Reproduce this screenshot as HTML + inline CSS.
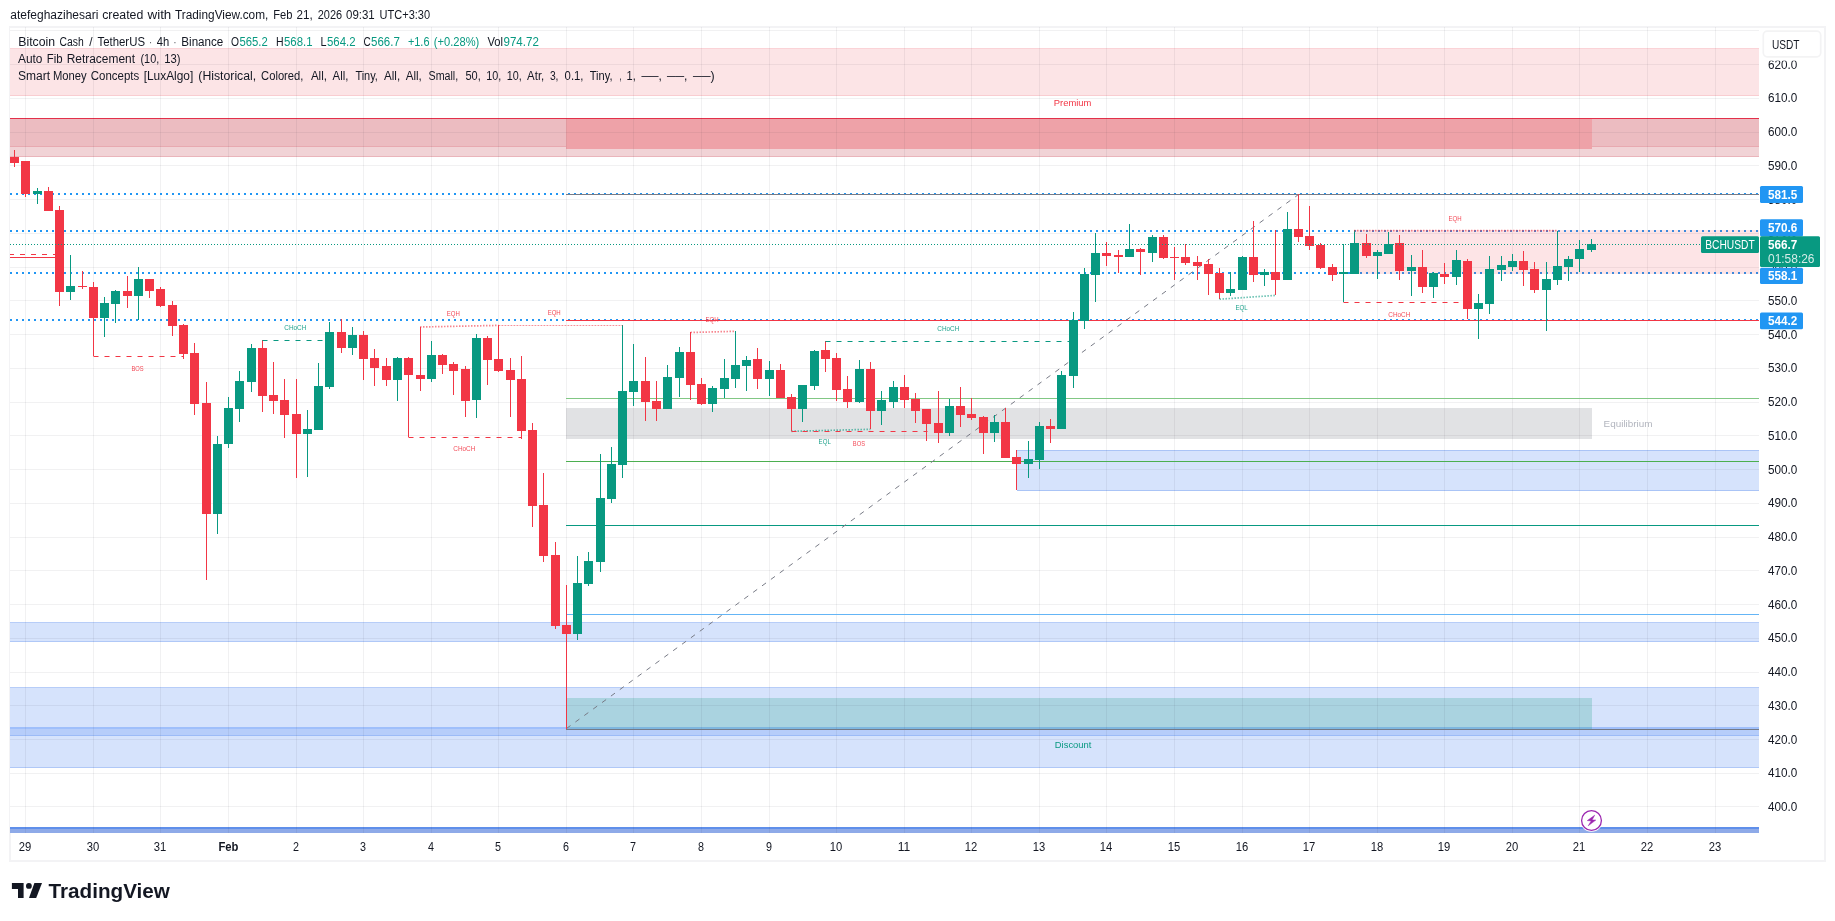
<!DOCTYPE html>
<html lang="en"><head><meta charset="utf-8"><title>BCHUSDT chart</title>
<style>html,body{margin:0;padding:0;background:#fff;width:1835px;height:921px;overflow:hidden}</style></head>
<body>
<svg width="1835" height="921" viewBox="0 0 1835 921" style="position:absolute;left:0;top:0;will-change:transform" font-family="'Liberation Sans', Arial, sans-serif">
<rect x="0" y="0" width="1835" height="921" fill="#fff"/>
<rect x="10" y="27" width="1815" height="834" fill="#fff" stroke="#f3f3f5" stroke-width="2"/>
<rect x="10" y="28" width="1749" height="805" fill="#fff"/>
<g shape-rendering="crispEdges">
<rect x="10" y="48" width="1749" height="47.5" fill="#fce4e6"/>
<rect x="10" y="95" width="1749" height="1" fill="#f9cdd1"/>
<rect x="10" y="48" width="1749" height="1" fill="#fbd3d7"/>
<rect x="10" y="119" width="1749" height="37.5" fill="#f1d3d6"/>
<rect x="10" y="119" width="1749" height="27.5" fill="#ecbcc1"/>
<rect x="10" y="146" width="1749" height="1" fill="#e8a9b0"/>
<rect x="10" y="156" width="1749" height="1" fill="#eab5bb"/>
<rect x="566" y="119" width="1026" height="30" fill="#eea2a8"/>
<rect x="10" y="118" width="1749" height="1.4" fill="#e3304a"/>
<rect x="10" y="622" width="1749" height="20" fill="#d6e3fc"/>
<rect x="10" y="622" width="1749" height="1" fill="#b7cdf8"/>
<rect x="10" y="641" width="1749" height="1" fill="#b0c8f7"/>
<rect x="10" y="687" width="1749" height="80.5" fill="#d6e3fc"/>
<rect x="10" y="687" width="1749" height="1" fill="#b7cdf8"/>
<rect x="10" y="767" width="1749" height="1" fill="#b0c8f7"/>
<rect x="10" y="727" width="1749" height="9" fill="#b6cdfa"/>
<rect x="10" y="727" width="1749" height="2" fill="#9fbffb"/>
<rect x="10" y="735" width="1749" height="1" fill="#9cbbf7"/>
<rect x="1016.5" y="450" width="742.5" height="40.5" fill="#d6e3fc"/>
<rect x="1016.5" y="450" width="742.5" height="1" fill="#aac4f6"/>
<rect x="1016.5" y="490" width="742.5" height="1" fill="#aac4f6"/>
<rect x="566" y="408" width="1026" height="30.7" fill="#e1e2e4"/>
<rect x="566" y="697.75" width="1026" height="31.25" fill="#aad3e0"/>
<rect x="566" y="727" width="1026" height="2" fill="#7eb6df"/>
<rect x="10" y="827.3" width="1749" height="5.7" fill="#8eaae8"/>
<rect x="10" y="827.3" width="1749" height="1.6" fill="#5f8fea"/>
</g>
<g stroke="rgba(42,46,57,0.065)" stroke-width="1" shape-rendering="crispEdges">
<line x1="25.5" y1="27" x2="25.5" y2="833"/>
<line x1="93.5" y1="27" x2="93.5" y2="833"/>
<line x1="160.5" y1="27" x2="160.5" y2="833"/>
<line x1="228.5" y1="27" x2="228.5" y2="833"/>
<line x1="296.5" y1="27" x2="296.5" y2="833"/>
<line x1="363.5" y1="27" x2="363.5" y2="833"/>
<line x1="431.5" y1="27" x2="431.5" y2="833"/>
<line x1="498.5" y1="27" x2="498.5" y2="833"/>
<line x1="566.5" y1="27" x2="566.5" y2="833"/>
<line x1="633.5" y1="27" x2="633.5" y2="833"/>
<line x1="701.5" y1="27" x2="701.5" y2="833"/>
<line x1="769.5" y1="27" x2="769.5" y2="833"/>
<line x1="836.5" y1="27" x2="836.5" y2="833"/>
<line x1="904.5" y1="27" x2="904.5" y2="833"/>
<line x1="971.5" y1="27" x2="971.5" y2="833"/>
<line x1="1039.5" y1="27" x2="1039.5" y2="833"/>
<line x1="1106.5" y1="27" x2="1106.5" y2="833"/>
<line x1="1174.5" y1="27" x2="1174.5" y2="833"/>
<line x1="1242.5" y1="27" x2="1242.5" y2="833"/>
<line x1="1309.5" y1="27" x2="1309.5" y2="833"/>
<line x1="1377.5" y1="27" x2="1377.5" y2="833"/>
<line x1="1444.5" y1="27" x2="1444.5" y2="833"/>
<line x1="1512.5" y1="27" x2="1512.5" y2="833"/>
<line x1="1579.5" y1="27" x2="1579.5" y2="833"/>
<line x1="1647.5" y1="27" x2="1647.5" y2="833"/>
<line x1="1715.5" y1="27" x2="1715.5" y2="833"/>
<line x1="10" y1="806.5" x2="1759" y2="806.5"/>
<line x1="10" y1="773.5" x2="1759" y2="773.5"/>
<line x1="10" y1="739.5" x2="1759" y2="739.5"/>
<line x1="10" y1="705.5" x2="1759" y2="705.5"/>
<line x1="10" y1="672.5" x2="1759" y2="672.5"/>
<line x1="10" y1="638.5" x2="1759" y2="638.5"/>
<line x1="10" y1="604.5" x2="1759" y2="604.5"/>
<line x1="10" y1="570.5" x2="1759" y2="570.5"/>
<line x1="10" y1="537.5" x2="1759" y2="537.5"/>
<line x1="10" y1="503.5" x2="1759" y2="503.5"/>
<line x1="10" y1="469.5" x2="1759" y2="469.5"/>
<line x1="10" y1="435.5" x2="1759" y2="435.5"/>
<line x1="10" y1="402.5" x2="1759" y2="402.5"/>
<line x1="10" y1="368.5" x2="1759" y2="368.5"/>
<line x1="10" y1="334.5" x2="1759" y2="334.5"/>
<line x1="10" y1="300.5" x2="1759" y2="300.5"/>
<line x1="10" y1="267.5" x2="1759" y2="267.5"/>
<line x1="10" y1="233.5" x2="1759" y2="233.5"/>
<line x1="10" y1="199.5" x2="1759" y2="199.5"/>
<line x1="10" y1="165.5" x2="1759" y2="165.5"/>
<line x1="10" y1="132.5" x2="1759" y2="132.5"/>
<line x1="10" y1="98.5" x2="1759" y2="98.5"/>
<line x1="10" y1="64.5" x2="1759" y2="64.5"/>
<line x1="10" y1="30.5" x2="1759" y2="30.5"/>
</g>
<g stroke="#2196f3" stroke-width="2" stroke-dasharray="2 4" shape-rendering="crispEdges">
<line x1="10" y1="194" x2="1759" y2="194"/>
<line x1="10" y1="231" x2="1759" y2="231"/>
<line x1="10" y1="273" x2="1759" y2="273"/>
<line x1="10" y1="320" x2="1759" y2="320"/>
</g>
<g shape-rendering="crispEdges">
<rect x="566" y="194" width="1193" height="1" fill="#787b86"/>
<rect x="566" y="320" width="1193" height="1.3" fill="#f23645"/>
<rect x="566" y="398" width="1193" height="1" fill="#81c784"/>
<rect x="566" y="461" width="1193" height="1" fill="#4caf50"/>
<rect x="566" y="525" width="1193" height="1" fill="#089981"/>
<rect x="566" y="614" width="1193" height="1" fill="#64b5f6"/>
<rect x="566" y="729" width="1193" height="1" fill="#747a88"/>
</g>
<line x1="566.5" y1="728.5" x2="1298.5" y2="194.5" stroke="#787b86" stroke-width="1" stroke-dasharray="5 6"/>
<rect x="1354" y="230" width="405" height="44" fill="rgba(242,54,69,0.134)" shape-rendering="crispEdges"/>
<g shape-rendering="crispEdges">
<rect x="14" y="150" width="1" height="17" fill="#f23645"/>
<rect x="10" y="157" width="9" height="6" fill="#f23645"/>
<rect x="25" y="161" width="1" height="36" fill="#f23645"/>
<rect x="21" y="161" width="9" height="33" fill="#f23645"/>
<rect x="37" y="188" width="1" height="16" fill="#089981"/>
<rect x="33" y="191" width="9" height="3" fill="#089981"/>
<rect x="48" y="187" width="1" height="24" fill="#f23645"/>
<rect x="44" y="191" width="9" height="20" fill="#f23645"/>
<rect x="59" y="206" width="1" height="100" fill="#f23645"/>
<rect x="55" y="210" width="9" height="82" fill="#f23645"/>
<rect x="70" y="255" width="1" height="45" fill="#089981"/>
<rect x="66" y="286" width="9" height="6" fill="#089981"/>
<rect x="82" y="271" width="1" height="18" fill="#f23645"/>
<rect x="78" y="286" width="9" height="1" fill="#f23645"/>
<rect x="93" y="282" width="1" height="74" fill="#f23645"/>
<rect x="89" y="287" width="9" height="31" fill="#f23645"/>
<rect x="104" y="297" width="1" height="40" fill="#089981"/>
<rect x="100" y="303" width="9" height="15" fill="#089981"/>
<rect x="115" y="290" width="1" height="33" fill="#089981"/>
<rect x="111" y="291" width="9" height="13" fill="#089981"/>
<rect x="127" y="276" width="1" height="32" fill="#f23645"/>
<rect x="123" y="291" width="9" height="5" fill="#f23645"/>
<rect x="138" y="267" width="1" height="53" fill="#089981"/>
<rect x="134" y="279" width="9" height="17" fill="#089981"/>
<rect x="149" y="279" width="1" height="19" fill="#f23645"/>
<rect x="145" y="279" width="9" height="12" fill="#f23645"/>
<rect x="160" y="287" width="1" height="20" fill="#f23645"/>
<rect x="156" y="289" width="9" height="17" fill="#f23645"/>
<rect x="172" y="301" width="1" height="35" fill="#f23645"/>
<rect x="168" y="305" width="9" height="21" fill="#f23645"/>
<rect x="183" y="324" width="1" height="35" fill="#f23645"/>
<rect x="179" y="325" width="9" height="29" fill="#f23645"/>
<rect x="194" y="343" width="1" height="72" fill="#f23645"/>
<rect x="190" y="353" width="9" height="51" fill="#f23645"/>
<rect x="206" y="382" width="1" height="198" fill="#f23645"/>
<rect x="202" y="403" width="9" height="111" fill="#f23645"/>
<rect x="217" y="436" width="1" height="98" fill="#089981"/>
<rect x="213" y="444" width="9" height="70" fill="#089981"/>
<rect x="228" y="397" width="1" height="51" fill="#089981"/>
<rect x="224" y="408" width="9" height="36" fill="#089981"/>
<rect x="239" y="371" width="1" height="51" fill="#089981"/>
<rect x="235" y="381" width="9" height="28" fill="#089981"/>
<rect x="251" y="344" width="1" height="48" fill="#089981"/>
<rect x="247" y="348" width="9" height="34" fill="#089981"/>
<rect x="262" y="340" width="1" height="72" fill="#f23645"/>
<rect x="258" y="348" width="9" height="48" fill="#f23645"/>
<rect x="273" y="362" width="1" height="52" fill="#f23645"/>
<rect x="269" y="395" width="9" height="6" fill="#f23645"/>
<rect x="284" y="379" width="1" height="59" fill="#f23645"/>
<rect x="280" y="400" width="9" height="15" fill="#f23645"/>
<rect x="296" y="379" width="1" height="99" fill="#f23645"/>
<rect x="292" y="414" width="9" height="20" fill="#f23645"/>
<rect x="307" y="410" width="1" height="67" fill="#089981"/>
<rect x="303" y="429" width="9" height="5" fill="#089981"/>
<rect x="318" y="363" width="1" height="67" fill="#089981"/>
<rect x="314" y="386" width="9" height="44" fill="#089981"/>
<rect x="329" y="322" width="1" height="67" fill="#089981"/>
<rect x="325" y="332" width="9" height="55" fill="#089981"/>
<rect x="341" y="319" width="1" height="34" fill="#f23645"/>
<rect x="337" y="332" width="9" height="16" fill="#f23645"/>
<rect x="352" y="327" width="1" height="28" fill="#089981"/>
<rect x="348" y="335" width="9" height="13" fill="#089981"/>
<rect x="363" y="331" width="1" height="49" fill="#f23645"/>
<rect x="359" y="335" width="9" height="24" fill="#f23645"/>
<rect x="374" y="349" width="1" height="37" fill="#f23645"/>
<rect x="370" y="358" width="9" height="10" fill="#f23645"/>
<rect x="386" y="358" width="1" height="28" fill="#f23645"/>
<rect x="382" y="366" width="9" height="14" fill="#f23645"/>
<rect x="397" y="357" width="1" height="44" fill="#089981"/>
<rect x="393" y="358" width="9" height="22" fill="#089981"/>
<rect x="408" y="357" width="1" height="80" fill="#f23645"/>
<rect x="404" y="358" width="9" height="17" fill="#f23645"/>
<rect x="420" y="327" width="1" height="64" fill="#f23645"/>
<rect x="416" y="375" width="9" height="4" fill="#f23645"/>
<rect x="431" y="341" width="1" height="41" fill="#089981"/>
<rect x="427" y="355" width="9" height="24" fill="#089981"/>
<rect x="442" y="354" width="1" height="20" fill="#f23645"/>
<rect x="438" y="355" width="9" height="10" fill="#f23645"/>
<rect x="453" y="362" width="1" height="33" fill="#f23645"/>
<rect x="449" y="364" width="9" height="7" fill="#f23645"/>
<rect x="465" y="366" width="1" height="51" fill="#f23645"/>
<rect x="461" y="369" width="9" height="32" fill="#f23645"/>
<rect x="476" y="334" width="1" height="84" fill="#089981"/>
<rect x="472" y="338" width="9" height="62" fill="#089981"/>
<rect x="487" y="336" width="1" height="49" fill="#f23645"/>
<rect x="483" y="338" width="9" height="22" fill="#f23645"/>
<rect x="498" y="325" width="1" height="47" fill="#f23645"/>
<rect x="494" y="359" width="9" height="12" fill="#f23645"/>
<rect x="510" y="358" width="1" height="59" fill="#f23645"/>
<rect x="506" y="370" width="9" height="10" fill="#f23645"/>
<rect x="521" y="356" width="1" height="83" fill="#f23645"/>
<rect x="517" y="379" width="9" height="52" fill="#f23645"/>
<rect x="532" y="423" width="1" height="104" fill="#f23645"/>
<rect x="528" y="430" width="9" height="76" fill="#f23645"/>
<rect x="543" y="473" width="1" height="89" fill="#f23645"/>
<rect x="539" y="505" width="9" height="51" fill="#f23645"/>
<rect x="555" y="542" width="1" height="87" fill="#f23645"/>
<rect x="551" y="555" width="9" height="71" fill="#f23645"/>
<rect x="566" y="585" width="1" height="144" fill="#f23645"/>
<rect x="562" y="625" width="9" height="9" fill="#f23645"/>
<rect x="577" y="556" width="1" height="84" fill="#089981"/>
<rect x="573" y="583" width="9" height="51" fill="#089981"/>
<rect x="588" y="552" width="1" height="34" fill="#089981"/>
<rect x="584" y="561" width="9" height="23" fill="#089981"/>
<rect x="600" y="454" width="1" height="118" fill="#089981"/>
<rect x="596" y="498" width="9" height="64" fill="#089981"/>
<rect x="611" y="447" width="1" height="56" fill="#089981"/>
<rect x="607" y="464" width="9" height="35" fill="#089981"/>
<rect x="622" y="325" width="1" height="153" fill="#089981"/>
<rect x="618" y="391" width="9" height="74" fill="#089981"/>
<rect x="633" y="344" width="1" height="62" fill="#089981"/>
<rect x="629" y="381" width="9" height="11" fill="#089981"/>
<rect x="645" y="357" width="1" height="64" fill="#f23645"/>
<rect x="641" y="381" width="9" height="21" fill="#f23645"/>
<rect x="656" y="381" width="1" height="40" fill="#f23645"/>
<rect x="652" y="401" width="9" height="8" fill="#f23645"/>
<rect x="667" y="365" width="1" height="44" fill="#089981"/>
<rect x="663" y="377" width="9" height="32" fill="#089981"/>
<rect x="679" y="347" width="1" height="50" fill="#089981"/>
<rect x="675" y="352" width="9" height="26" fill="#089981"/>
<rect x="690" y="332" width="1" height="68" fill="#f23645"/>
<rect x="686" y="352" width="9" height="33" fill="#f23645"/>
<rect x="701" y="378" width="1" height="27" fill="#f23645"/>
<rect x="697" y="384" width="9" height="20" fill="#f23645"/>
<rect x="712" y="386" width="1" height="26" fill="#089981"/>
<rect x="708" y="388" width="9" height="16" fill="#089981"/>
<rect x="724" y="359" width="1" height="39" fill="#089981"/>
<rect x="720" y="378" width="9" height="11" fill="#089981"/>
<rect x="735" y="331" width="1" height="57" fill="#089981"/>
<rect x="731" y="365" width="9" height="14" fill="#089981"/>
<rect x="746" y="356" width="1" height="35" fill="#089981"/>
<rect x="742" y="360" width="9" height="6" fill="#089981"/>
<rect x="757" y="348" width="1" height="41" fill="#f23645"/>
<rect x="753" y="359" width="9" height="20" fill="#f23645"/>
<rect x="769" y="361" width="1" height="35" fill="#089981"/>
<rect x="765" y="370" width="9" height="9" fill="#089981"/>
<rect x="780" y="364" width="1" height="34" fill="#f23645"/>
<rect x="776" y="370" width="9" height="28" fill="#f23645"/>
<rect x="791" y="394" width="1" height="37" fill="#f23645"/>
<rect x="787" y="397" width="9" height="12" fill="#f23645"/>
<rect x="802" y="385" width="1" height="37" fill="#089981"/>
<rect x="798" y="385" width="9" height="24" fill="#089981"/>
<rect x="814" y="350" width="1" height="40" fill="#089981"/>
<rect x="810" y="351" width="9" height="35" fill="#089981"/>
<rect x="825" y="341" width="1" height="31" fill="#f23645"/>
<rect x="821" y="350" width="9" height="9" fill="#f23645"/>
<rect x="836" y="353" width="1" height="48" fill="#f23645"/>
<rect x="832" y="358" width="9" height="32" fill="#f23645"/>
<rect x="847" y="376" width="1" height="32" fill="#f23645"/>
<rect x="843" y="389" width="9" height="13" fill="#f23645"/>
<rect x="859" y="360" width="1" height="43" fill="#089981"/>
<rect x="855" y="369" width="9" height="33" fill="#089981"/>
<rect x="870" y="362" width="1" height="67" fill="#f23645"/>
<rect x="866" y="369" width="9" height="42" fill="#f23645"/>
<rect x="881" y="391" width="1" height="34" fill="#089981"/>
<rect x="877" y="400" width="9" height="11" fill="#089981"/>
<rect x="893" y="381" width="1" height="27" fill="#089981"/>
<rect x="889" y="387" width="9" height="15" fill="#089981"/>
<rect x="904" y="375" width="1" height="33" fill="#f23645"/>
<rect x="900" y="387" width="9" height="13" fill="#f23645"/>
<rect x="915" y="393" width="1" height="30" fill="#f23645"/>
<rect x="911" y="399" width="9" height="12" fill="#f23645"/>
<rect x="926" y="409" width="1" height="32" fill="#f23645"/>
<rect x="922" y="409" width="9" height="15" fill="#f23645"/>
<rect x="938" y="391" width="1" height="52" fill="#f23645"/>
<rect x="934" y="423" width="9" height="10" fill="#f23645"/>
<rect x="949" y="399" width="1" height="37" fill="#089981"/>
<rect x="945" y="406" width="9" height="27" fill="#089981"/>
<rect x="960" y="387" width="1" height="40" fill="#f23645"/>
<rect x="956" y="406" width="9" height="9" fill="#f23645"/>
<rect x="971" y="398" width="1" height="22" fill="#f23645"/>
<rect x="967" y="414" width="9" height="4" fill="#f23645"/>
<rect x="983" y="416" width="1" height="38" fill="#f23645"/>
<rect x="979" y="417" width="9" height="16" fill="#f23645"/>
<rect x="994" y="415" width="1" height="27" fill="#089981"/>
<rect x="990" y="422" width="9" height="11" fill="#089981"/>
<rect x="1005" y="408" width="1" height="50" fill="#f23645"/>
<rect x="1001" y="422" width="9" height="36" fill="#f23645"/>
<rect x="1016" y="450" width="1" height="40" fill="#f23645"/>
<rect x="1012" y="457" width="9" height="7" fill="#f23645"/>
<rect x="1028" y="441" width="1" height="37" fill="#089981"/>
<rect x="1024" y="459" width="9" height="5" fill="#089981"/>
<rect x="1039" y="422" width="1" height="47" fill="#089981"/>
<rect x="1035" y="426" width="9" height="34" fill="#089981"/>
<rect x="1050" y="419" width="1" height="24" fill="#f23645"/>
<rect x="1046" y="426" width="9" height="3" fill="#f23645"/>
<rect x="1061" y="371" width="1" height="58" fill="#089981"/>
<rect x="1057" y="375" width="9" height="54" fill="#089981"/>
<rect x="1073" y="312" width="1" height="76" fill="#089981"/>
<rect x="1069" y="320" width="9" height="56" fill="#089981"/>
<rect x="1084" y="268" width="1" height="61" fill="#089981"/>
<rect x="1080" y="274" width="9" height="47" fill="#089981"/>
<rect x="1095" y="233" width="1" height="69" fill="#089981"/>
<rect x="1091" y="253" width="9" height="22" fill="#089981"/>
<rect x="1106" y="242" width="1" height="24" fill="#f23645"/>
<rect x="1102" y="253" width="9" height="3" fill="#f23645"/>
<rect x="1118" y="250" width="1" height="23" fill="#f23645"/>
<rect x="1114" y="255" width="9" height="2" fill="#f23645"/>
<rect x="1129" y="224" width="1" height="33" fill="#089981"/>
<rect x="1125" y="249" width="9" height="8" fill="#089981"/>
<rect x="1140" y="248" width="1" height="27" fill="#f23645"/>
<rect x="1136" y="249" width="9" height="3" fill="#f23645"/>
<rect x="1152" y="235" width="1" height="27" fill="#089981"/>
<rect x="1148" y="237" width="9" height="16" fill="#089981"/>
<rect x="1163" y="235" width="1" height="24" fill="#f23645"/>
<rect x="1159" y="237" width="9" height="21" fill="#f23645"/>
<rect x="1174" y="247" width="1" height="33" fill="#f23645"/>
<rect x="1170" y="257" width="9" height="1" fill="#f23645"/>
<rect x="1185" y="244" width="1" height="21" fill="#f23645"/>
<rect x="1181" y="257" width="9" height="6" fill="#f23645"/>
<rect x="1197" y="256" width="1" height="24" fill="#f23645"/>
<rect x="1193" y="262" width="9" height="4" fill="#f23645"/>
<rect x="1208" y="259" width="1" height="36" fill="#f23645"/>
<rect x="1204" y="264" width="9" height="10" fill="#f23645"/>
<rect x="1219" y="268" width="1" height="31" fill="#f23645"/>
<rect x="1215" y="273" width="9" height="20" fill="#f23645"/>
<rect x="1230" y="272" width="1" height="24" fill="#089981"/>
<rect x="1226" y="289" width="9" height="4" fill="#089981"/>
<rect x="1242" y="256" width="1" height="34" fill="#089981"/>
<rect x="1238" y="257" width="9" height="33" fill="#089981"/>
<rect x="1253" y="221" width="1" height="61" fill="#f23645"/>
<rect x="1249" y="257" width="9" height="18" fill="#f23645"/>
<rect x="1264" y="269" width="1" height="17" fill="#089981"/>
<rect x="1260" y="272" width="9" height="3" fill="#089981"/>
<rect x="1275" y="230" width="1" height="65" fill="#f23645"/>
<rect x="1271" y="272" width="9" height="8" fill="#f23645"/>
<rect x="1287" y="212" width="1" height="68" fill="#089981"/>
<rect x="1283" y="229" width="9" height="51" fill="#089981"/>
<rect x="1298" y="194" width="1" height="48" fill="#f23645"/>
<rect x="1294" y="229" width="9" height="8" fill="#f23645"/>
<rect x="1309" y="206" width="1" height="44" fill="#f23645"/>
<rect x="1305" y="236" width="9" height="10" fill="#f23645"/>
<rect x="1320" y="243" width="1" height="26" fill="#f23645"/>
<rect x="1316" y="245" width="9" height="23" fill="#f23645"/>
<rect x="1332" y="264" width="1" height="17" fill="#f23645"/>
<rect x="1328" y="267" width="9" height="8" fill="#f23645"/>
<rect x="1343" y="244" width="1" height="58" fill="#089981"/>
<rect x="1339" y="272" width="9" height="2" fill="#089981"/>
<rect x="1354" y="230" width="1" height="44" fill="#089981"/>
<rect x="1350" y="243" width="9" height="31" fill="#089981"/>
<rect x="1366" y="234" width="1" height="24" fill="#f23645"/>
<rect x="1362" y="243" width="9" height="13" fill="#f23645"/>
<rect x="1377" y="250" width="1" height="29" fill="#089981"/>
<rect x="1373" y="252" width="9" height="4" fill="#089981"/>
<rect x="1388" y="232" width="1" height="22" fill="#089981"/>
<rect x="1384" y="244" width="9" height="10" fill="#089981"/>
<rect x="1399" y="235" width="1" height="45" fill="#f23645"/>
<rect x="1395" y="243" width="9" height="28" fill="#f23645"/>
<rect x="1411" y="255" width="1" height="41" fill="#089981"/>
<rect x="1407" y="267" width="9" height="4" fill="#089981"/>
<rect x="1422" y="250" width="1" height="43" fill="#f23645"/>
<rect x="1418" y="267" width="9" height="20" fill="#f23645"/>
<rect x="1433" y="272" width="1" height="26" fill="#089981"/>
<rect x="1429" y="273" width="9" height="14" fill="#089981"/>
<rect x="1444" y="263" width="1" height="21" fill="#f23645"/>
<rect x="1440" y="274" width="9" height="3" fill="#f23645"/>
<rect x="1456" y="250" width="1" height="35" fill="#089981"/>
<rect x="1452" y="260" width="9" height="17" fill="#089981"/>
<rect x="1467" y="259" width="1" height="60" fill="#f23645"/>
<rect x="1463" y="261" width="9" height="48" fill="#f23645"/>
<rect x="1478" y="294" width="1" height="45" fill="#089981"/>
<rect x="1474" y="303" width="9" height="6" fill="#089981"/>
<rect x="1489" y="256" width="1" height="58" fill="#089981"/>
<rect x="1485" y="269" width="9" height="35" fill="#089981"/>
<rect x="1501" y="256" width="1" height="25" fill="#089981"/>
<rect x="1497" y="265" width="9" height="5" fill="#089981"/>
<rect x="1512" y="254" width="1" height="17" fill="#089981"/>
<rect x="1508" y="261" width="9" height="6" fill="#089981"/>
<rect x="1523" y="251" width="1" height="35" fill="#f23645"/>
<rect x="1519" y="261" width="9" height="9" fill="#f23645"/>
<rect x="1534" y="262" width="1" height="31" fill="#f23645"/>
<rect x="1530" y="269" width="9" height="21" fill="#f23645"/>
<rect x="1546" y="262" width="1" height="69" fill="#089981"/>
<rect x="1542" y="279" width="9" height="11" fill="#089981"/>
<rect x="1557" y="231" width="1" height="54" fill="#089981"/>
<rect x="1553" y="266" width="9" height="14" fill="#089981"/>
<rect x="1568" y="256" width="1" height="25" fill="#089981"/>
<rect x="1564" y="259" width="9" height="8" fill="#089981"/>
<rect x="1579" y="240" width="1" height="32" fill="#089981"/>
<rect x="1575" y="249" width="9" height="10" fill="#089981"/>
<rect x="1591" y="239" width="1" height="13" fill="#089981"/>
<rect x="1587" y="244" width="9" height="6" fill="#089981"/>
</g>
<line x1="10" y1="244.5" x2="1701" y2="244.5" stroke="#089981" stroke-width="1" stroke-dasharray="1 2" shape-rendering="crispEdges"/>
<line x1="10" y1="254.5" x2="55" y2="254.5" stroke="#f23645" stroke-width="1" stroke-dasharray="4 6 5 6 5 6 5 6 5 6"/>
<rect x="10" y="257" width="45" height="1" fill="#f23645" shape-rendering="crispEdges"/>
<line x1="93.5" y1="356.5" x2="183.5" y2="356.5" stroke="#f23645" stroke-width="1" stroke-dasharray="5 6"/>
<text x="137.5" y="370.8" font-size="7" fill="#f23645" fill-opacity="0.9" text-anchor="middle" textLength="12.2" lengthAdjust="spacingAndGlyphs">BOS</text>
<line x1="262.5" y1="340.5" x2="325" y2="340.5" stroke="#089981" stroke-width="1" stroke-dasharray="5 6"/>
<text x="295.3" y="330.1" font-size="7" fill="#089981" fill-opacity="0.9" text-anchor="middle" textLength="22" lengthAdjust="spacingAndGlyphs">CHoCH</text>
<line x1="408.5" y1="437.5" x2="522" y2="437.5" stroke="#f23645" stroke-width="1" stroke-dasharray="5 6"/>
<text x="464.3" y="450.8" font-size="7" fill="#f23645" fill-opacity="0.9" text-anchor="middle" textLength="22" lengthAdjust="spacingAndGlyphs">CHoCH</text>
<line x1="420" y1="327" x2="498.5" y2="325.4" stroke="#f23645" stroke-width="1.7" stroke-dasharray="1.5 1.5" stroke-opacity="0.6"/>
<text x="453.3" y="316.0" font-size="7" fill="#f23645" fill-opacity="0.9" text-anchor="middle" textLength="13.1" lengthAdjust="spacingAndGlyphs">EQH</text>
<line x1="498.5" y1="325.5" x2="622.5" y2="325.5" stroke="#f23645" stroke-width="1" stroke-dasharray="1.8 1.2" stroke-opacity="0.55"/>
<text x="554.2" y="315.2" font-size="7" fill="#f23645" fill-opacity="0.9" text-anchor="middle" textLength="13.1" lengthAdjust="spacingAndGlyphs">EQH</text>
<line x1="690.5" y1="332.5" x2="735.5" y2="331.3" stroke="#f23645" stroke-width="1.7" stroke-dasharray="1.5 1.5" stroke-opacity="0.6"/>
<text x="712" y="322.0" font-size="7" fill="#f23645" fill-opacity="0.9" text-anchor="middle" textLength="13.1" lengthAdjust="spacingAndGlyphs">EQH</text>
<line x1="791.5" y1="431.3" x2="870.5" y2="429.3" stroke="#089981" stroke-width="1.7" stroke-dasharray="1.5 1.5" stroke-opacity="0.6"/>
<text x="824.7" y="444.1" font-size="7" fill="#089981" fill-opacity="0.9" text-anchor="middle" textLength="12.2" lengthAdjust="spacingAndGlyphs">EQL</text>
<line x1="791.5" y1="431.5" x2="927.5" y2="431.5" stroke="#f23645" stroke-width="1" stroke-dasharray="5 6"/>
<text x="858.9" y="445.9" font-size="7" fill="#f23645" fill-opacity="0.9" text-anchor="middle" textLength="12.2" lengthAdjust="spacingAndGlyphs">BOS</text>
<line x1="825.5" y1="341.5" x2="1069" y2="341.5" stroke="#089981" stroke-width="1" stroke-dasharray="5 6"/>
<text x="948.3" y="331.0" font-size="7" fill="#089981" fill-opacity="0.9" text-anchor="middle" textLength="22" lengthAdjust="spacingAndGlyphs">CHoCH</text>
<line x1="1219.5" y1="299.2" x2="1275.5" y2="295.4" stroke="#089981" stroke-width="1.7" stroke-dasharray="1.5 1.5" stroke-opacity="0.6"/>
<text x="1241.5" y="310.0" font-size="7" fill="#089981" fill-opacity="0.9" text-anchor="middle" textLength="12.2" lengthAdjust="spacingAndGlyphs">EQL</text>
<line x1="1343.5" y1="302.5" x2="1460" y2="302.5" stroke="#f23645" stroke-width="1" stroke-dasharray="5 6"/>
<text x="1399.3" y="316.8" font-size="7" fill="#f23645" fill-opacity="0.9" text-anchor="middle" textLength="22" lengthAdjust="spacingAndGlyphs">CHoCH</text>
<line x1="1354" y1="230.6" x2="1557" y2="230.6" stroke="#f23645" stroke-width="1.7" stroke-dasharray="1.5 1.5" stroke-opacity="0.6"/>
<text x="1455" y="220.8" font-size="7" fill="#f23645" fill-opacity="0.9" text-anchor="middle" textLength="13.1" lengthAdjust="spacingAndGlyphs">EQH</text>
<text x="1072.6" y="105.9" font-size="9.2" fill="#f23645" fill-opacity="1" text-anchor="middle" textLength="37.6" lengthAdjust="spacingAndGlyphs">Premium</text>
<text x="1073.1" y="748" font-size="9.5" fill="#089981" fill-opacity="1" text-anchor="middle" textLength="36.6" lengthAdjust="spacingAndGlyphs">Discount</text>
<text x="1603.6" y="427" font-size="9.2" fill="#b2b5be" textLength="49" lengthAdjust="spacingAndGlyphs">Equilibrium</text>
<circle cx="1591.5" cy="820.5" r="11.3" fill="#fff"/>
<circle cx="1591.5" cy="820.5" r="9.9" fill="#fff" stroke="#9c27b0" stroke-width="1.3"/>
<path d="M1594.7 815.2 L1587.3 820.6 L1591.2 820.9 L1588.2 825.8 L1595.8 820.1 L1592.1 819.9 Z" fill="#9c27b0" stroke="#9c27b0" stroke-width="0.5" stroke-linejoin="round"/>
<rect x="1759.5" y="28" width="64.5" height="832" fill="#fff"/>
<g font-size="12" fill="#131722">
<text x="1768" y="811.0" textLength="29.3" lengthAdjust="spacingAndGlyphs">400.0</text>
<text x="1768" y="777.2" textLength="29.3" lengthAdjust="spacingAndGlyphs">410.0</text>
<text x="1768" y="743.5" textLength="29.3" lengthAdjust="spacingAndGlyphs">420.0</text>
<text x="1768" y="709.7" textLength="29.3" lengthAdjust="spacingAndGlyphs">430.0</text>
<text x="1768" y="676.0" textLength="29.3" lengthAdjust="spacingAndGlyphs">440.0</text>
<text x="1768" y="642.3" textLength="29.3" lengthAdjust="spacingAndGlyphs">450.0</text>
<text x="1768" y="608.5" textLength="29.3" lengthAdjust="spacingAndGlyphs">460.0</text>
<text x="1768" y="574.8" textLength="29.3" lengthAdjust="spacingAndGlyphs">470.0</text>
<text x="1768" y="541.0" textLength="29.3" lengthAdjust="spacingAndGlyphs">480.0</text>
<text x="1768" y="507.3" textLength="29.3" lengthAdjust="spacingAndGlyphs">490.0</text>
<text x="1768" y="473.6" textLength="29.3" lengthAdjust="spacingAndGlyphs">500.0</text>
<text x="1768" y="439.8" textLength="29.3" lengthAdjust="spacingAndGlyphs">510.0</text>
<text x="1768" y="406.1" textLength="29.3" lengthAdjust="spacingAndGlyphs">520.0</text>
<text x="1768" y="372.3" textLength="29.3" lengthAdjust="spacingAndGlyphs">530.0</text>
<text x="1768" y="338.6" textLength="29.3" lengthAdjust="spacingAndGlyphs">540.0</text>
<text x="1768" y="304.9" textLength="29.3" lengthAdjust="spacingAndGlyphs">550.0</text>
<text x="1768" y="271.1" textLength="29.3" lengthAdjust="spacingAndGlyphs">560.0</text>
<text x="1768" y="237.4" textLength="29.3" lengthAdjust="spacingAndGlyphs">570.0</text>
<text x="1768" y="203.6" textLength="29.3" lengthAdjust="spacingAndGlyphs">580.0</text>
<text x="1768" y="169.9" textLength="29.3" lengthAdjust="spacingAndGlyphs">590.0</text>
<text x="1768" y="136.2" textLength="29.3" lengthAdjust="spacingAndGlyphs">600.0</text>
<text x="1768" y="102.4" textLength="29.3" lengthAdjust="spacingAndGlyphs">610.0</text>
<text x="1768" y="68.7" textLength="29.3" lengthAdjust="spacingAndGlyphs">620.0</text>
</g>
<rect x="1762" y="57" width="60" height="3.7" fill="#fff"/>
<rect x="1763.3" y="31.2" width="57.4" height="25.6" rx="4" fill="#fff" stroke="#f3f3f4" stroke-width="1.7"/>
<text x="1772" y="49" font-size="12" fill="#131722" textLength="27.5" lengthAdjust="spacingAndGlyphs">USDT</text>
<rect x="1760" y="186" width="43" height="17" rx="1.5" fill="#2196f3"/>
<text x="1768" y="198.8" font-size="12" font-weight="bold" fill="#fff" textLength="29.3" lengthAdjust="spacingAndGlyphs">581.5</text>
<rect x="1760" y="219.3" width="43" height="17.19999999999999" rx="1.5" fill="#2196f3"/>
<text x="1768" y="232.2" font-size="12" font-weight="bold" fill="#fff" textLength="29.3" lengthAdjust="spacingAndGlyphs">570.6</text>
<rect x="1760" y="267.7" width="43" height="16.30000000000001" rx="1.5" fill="#2196f3"/>
<text x="1768" y="280.2" font-size="12" font-weight="bold" fill="#fff" textLength="29.3" lengthAdjust="spacingAndGlyphs">558.1</text>
<rect x="1760" y="312.4" width="43" height="16.80000000000001" rx="1.5" fill="#2196f3"/>
<text x="1768" y="325.1" font-size="12" font-weight="bold" fill="#fff" textLength="29.3" lengthAdjust="spacingAndGlyphs">544.2</text>
<rect x="1760" y="236.3" width="60" height="30.6" rx="1.5" fill="#089981"/>
<text x="1768" y="249.2" font-size="12" font-weight="bold" fill="#fff" textLength="29.3" lengthAdjust="spacingAndGlyphs">566.7</text>
<text x="1768" y="263" font-size="12" fill="#d5ece7" textLength="46.5" lengthAdjust="spacingAndGlyphs">01:58:26</text>
<rect x="1701" y="236.3" width="58" height="16.6" rx="1.5" fill="#089981"/>
<text x="1705.2" y="249" font-size="12" fill="#fff" textLength="49.6" lengthAdjust="spacingAndGlyphs">BCHUSDT</text>
<g font-size="12" fill="#131722" text-anchor="middle">
<text x="25.0" y="851.2" textLength="12.5" lengthAdjust="spacingAndGlyphs">29</text>
<text x="93.0" y="851.2" textLength="12.5" lengthAdjust="spacingAndGlyphs">30</text>
<text x="160.0" y="851.2" textLength="12.5" lengthAdjust="spacingAndGlyphs">31</text>
<text x="228.5" y="851.2" font-weight="bold" textLength="20" lengthAdjust="spacingAndGlyphs">Feb</text>
<text x="296.0" y="851.2" textLength="6" lengthAdjust="spacingAndGlyphs">2</text>
<text x="363.0" y="851.2" textLength="6" lengthAdjust="spacingAndGlyphs">3</text>
<text x="431.0" y="851.2" textLength="6" lengthAdjust="spacingAndGlyphs">4</text>
<text x="498.0" y="851.2" textLength="6" lengthAdjust="spacingAndGlyphs">5</text>
<text x="566.0" y="851.2" textLength="6" lengthAdjust="spacingAndGlyphs">6</text>
<text x="633.0" y="851.2" textLength="6" lengthAdjust="spacingAndGlyphs">7</text>
<text x="701.0" y="851.2" textLength="6" lengthAdjust="spacingAndGlyphs">8</text>
<text x="769.0" y="851.2" textLength="6" lengthAdjust="spacingAndGlyphs">9</text>
<text x="836.0" y="851.2" textLength="12.5" lengthAdjust="spacingAndGlyphs">10</text>
<text x="904.0" y="851.2" textLength="12.5" lengthAdjust="spacingAndGlyphs">11</text>
<text x="971.0" y="851.2" textLength="12.5" lengthAdjust="spacingAndGlyphs">12</text>
<text x="1039.0" y="851.2" textLength="12.5" lengthAdjust="spacingAndGlyphs">13</text>
<text x="1106.0" y="851.2" textLength="12.5" lengthAdjust="spacingAndGlyphs">14</text>
<text x="1174.0" y="851.2" textLength="12.5" lengthAdjust="spacingAndGlyphs">15</text>
<text x="1242.0" y="851.2" textLength="12.5" lengthAdjust="spacingAndGlyphs">16</text>
<text x="1309.0" y="851.2" textLength="12.5" lengthAdjust="spacingAndGlyphs">17</text>
<text x="1377.0" y="851.2" textLength="12.5" lengthAdjust="spacingAndGlyphs">18</text>
<text x="1444.0" y="851.2" textLength="12.5" lengthAdjust="spacingAndGlyphs">19</text>
<text x="1512.0" y="851.2" textLength="12.5" lengthAdjust="spacingAndGlyphs">20</text>
<text x="1579.0" y="851.2" textLength="12.5" lengthAdjust="spacingAndGlyphs">21</text>
<text x="1647.0" y="851.2" textLength="12.5" lengthAdjust="spacingAndGlyphs">22</text>
<text x="1715.0" y="851.2" textLength="12.5" lengthAdjust="spacingAndGlyphs">23</text>
</g>
<g font-size="12" fill="#131722">
<text x="10.3" y="18.7" fill="#131722" textLength="88.0" lengthAdjust="spacingAndGlyphs">atefeghazihesari</text>
<text x="102.2" y="18.7" fill="#131722" textLength="41.1" lengthAdjust="spacingAndGlyphs">created</text>
<text x="147.5" y="18.7" fill="#131722" textLength="23.8" lengthAdjust="spacingAndGlyphs">with</text>
<text x="175" y="18.7" fill="#131722" textLength="93.3" lengthAdjust="spacingAndGlyphs">TradingView.com,</text>
<text x="273.3" y="18.7" fill="#131722" textLength="19.2" lengthAdjust="spacingAndGlyphs">Feb</text>
<text x="296.5" y="18.7" fill="#131722" textLength="16.2" lengthAdjust="spacingAndGlyphs">21,</text>
<text x="317.7" y="18.7" fill="#131722" textLength="24.4" lengthAdjust="spacingAndGlyphs">2026</text>
<text x="346" y="18.7" fill="#131722" textLength="28.7" lengthAdjust="spacingAndGlyphs">09:31</text>
<text x="379.6" y="18.7" fill="#131722" textLength="50.5" lengthAdjust="spacingAndGlyphs">UTC+3:30</text>
<text x="18.3" y="45.8" fill="#131722" textLength="36.8" lengthAdjust="spacingAndGlyphs">Bitcoin</text>
<text x="59.5" y="45.8" fill="#131722" textLength="24.2" lengthAdjust="spacingAndGlyphs">Cash</text>
<text x="89.2" y="45.8" fill="#131722" textLength="3.3" lengthAdjust="spacingAndGlyphs">/</text>
<text x="97.5" y="45.8" fill="#131722" textLength="47.5" lengthAdjust="spacingAndGlyphs">TetherUS</text>
<text x="149.6" y="45.8" fill="#131722" textLength="2.4" lengthAdjust="spacingAndGlyphs">·</text>
<text x="156.7" y="45.8" fill="#131722" textLength="12.5" lengthAdjust="spacingAndGlyphs">4h</text>
<text x="173.8" y="45.8" fill="#131722" textLength="2.4" lengthAdjust="spacingAndGlyphs">·</text>
<text x="181.3" y="45.8" fill="#131722" textLength="42.0" lengthAdjust="spacingAndGlyphs">Binance</text>
<text x="231.1" y="45.8" fill="#131722" textLength="8" lengthAdjust="spacingAndGlyphs">O</text>
<text x="239.5" y="45.8" fill="#089981" textLength="28.3" lengthAdjust="spacingAndGlyphs">565.2</text>
<text x="276.1" y="45.8" fill="#131722" textLength="7.6" lengthAdjust="spacingAndGlyphs">H</text>
<text x="284" y="45.8" fill="#089981" textLength="28.5" lengthAdjust="spacingAndGlyphs">568.1</text>
<text x="320.6" y="45.8" fill="#131722" textLength="6" lengthAdjust="spacingAndGlyphs">L</text>
<text x="327" y="45.8" fill="#089981" textLength="28.6" lengthAdjust="spacingAndGlyphs">564.2</text>
<text x="363.4" y="45.8" fill="#131722" textLength="7.2" lengthAdjust="spacingAndGlyphs">C</text>
<text x="371" y="45.8" fill="#089981" textLength="28.8" lengthAdjust="spacingAndGlyphs">566.7</text>
<text x="407.9" y="45.8" fill="#089981" textLength="21.6" lengthAdjust="spacingAndGlyphs">+1.6</text>
<text x="433.8" y="45.8" fill="#089981" textLength="45.5" lengthAdjust="spacingAndGlyphs">(+0.28%)</text>
<text x="487.4" y="45.8" fill="#131722" textLength="15.6" lengthAdjust="spacingAndGlyphs">Vol</text>
<text x="503.5" y="45.8" fill="#089981" textLength="35.3" lengthAdjust="spacingAndGlyphs">974.72</text>
<text x="18" y="63" fill="#131722" textLength="24.5" lengthAdjust="spacingAndGlyphs">Auto</text>
<text x="46.7" y="63" fill="#131722" textLength="15.8" lengthAdjust="spacingAndGlyphs">Fib</text>
<text x="66.7" y="63" fill="#131722" textLength="68.3" lengthAdjust="spacingAndGlyphs">Retracement</text>
<text x="140.5" y="63" fill="#131722" textLength="18.7" lengthAdjust="spacingAndGlyphs">(10,</text>
<text x="164.2" y="63" fill="#131722" textLength="16.3" lengthAdjust="spacingAndGlyphs">13)</text>
<text x="18" y="80" fill="#131722" textLength="32.0" lengthAdjust="spacingAndGlyphs">Smart</text>
<text x="53" y="80" fill="#131722" textLength="33.7" lengthAdjust="spacingAndGlyphs">Money</text>
<text x="90.8" y="80" fill="#131722" textLength="48.4" lengthAdjust="spacingAndGlyphs">Concepts</text>
<text x="143.7" y="80" fill="#131722" textLength="49.6" lengthAdjust="spacingAndGlyphs">[LuxAlgo]</text>
<text x="198.3" y="80" fill="#131722" textLength="57.9" lengthAdjust="spacingAndGlyphs">(Historical,</text>
<text x="261.1" y="80" fill="#131722" textLength="42.3" lengthAdjust="spacingAndGlyphs">Colored,</text>
<text x="310.9" y="80" fill="#131722" textLength="16.1" lengthAdjust="spacingAndGlyphs">All,</text>
<text x="332.6" y="80" fill="#131722" textLength="15.8" lengthAdjust="spacingAndGlyphs">All,</text>
<text x="355.4" y="80" fill="#131722" textLength="22.5" lengthAdjust="spacingAndGlyphs">Tiny,</text>
<text x="384" y="80" fill="#131722" textLength="16.1" lengthAdjust="spacingAndGlyphs">All,</text>
<text x="405.7" y="80" fill="#131722" textLength="16.1" lengthAdjust="spacingAndGlyphs">All,</text>
<text x="428.5" y="80" fill="#131722" textLength="29.7" lengthAdjust="spacingAndGlyphs">Small,</text>
<text x="465.4" y="80" fill="#131722" textLength="15.3" lengthAdjust="spacingAndGlyphs">50,</text>
<text x="486.3" y="80" fill="#131722" textLength="15.0" lengthAdjust="spacingAndGlyphs">10,</text>
<text x="506.8" y="80" fill="#131722" textLength="15.0" lengthAdjust="spacingAndGlyphs">10,</text>
<text x="527.1" y="80" fill="#131722" textLength="17.2" lengthAdjust="spacingAndGlyphs">Atr,</text>
<text x="549.9" y="80" fill="#131722" textLength="8.6" lengthAdjust="spacingAndGlyphs">3,</text>
<text x="564.6" y="80" fill="#131722" textLength="18.9" lengthAdjust="spacingAndGlyphs">0.1,</text>
<text x="589.7" y="80" fill="#131722" textLength="22.8" lengthAdjust="spacingAndGlyphs">Tiny,</text>
<text x="619.4" y="80" fill="#131722" textLength="2.2" lengthAdjust="spacingAndGlyphs">,</text>
<text x="626.6" y="80" fill="#131722" textLength="9.2" lengthAdjust="spacingAndGlyphs">1,</text>
<text x="641.6" y="80" fill="#131722" textLength="20.3" lengthAdjust="spacingAndGlyphs">──,</text>
<text x="666.9" y="80" fill="#131722" textLength="20.6" lengthAdjust="spacingAndGlyphs">──,</text>
<text x="693" y="80" fill="#131722" textLength="21.7" lengthAdjust="spacingAndGlyphs">──)</text>
</g>
<g fill="#131722">
<path d="M11.9 883.1 H23.6 V898 H18 V888.9 H11.9 Z"/>
<circle cx="28.9" cy="885.9" r="2.9"/>
<path d="M34.4 883.1 H42 L36.2 898 H29 Z"/>
<text x="48.6" y="898" font-size="20.8" font-weight="bold" textLength="121.3" lengthAdjust="spacingAndGlyphs">TradingView</text>
</g>
</svg>
</body></html>
